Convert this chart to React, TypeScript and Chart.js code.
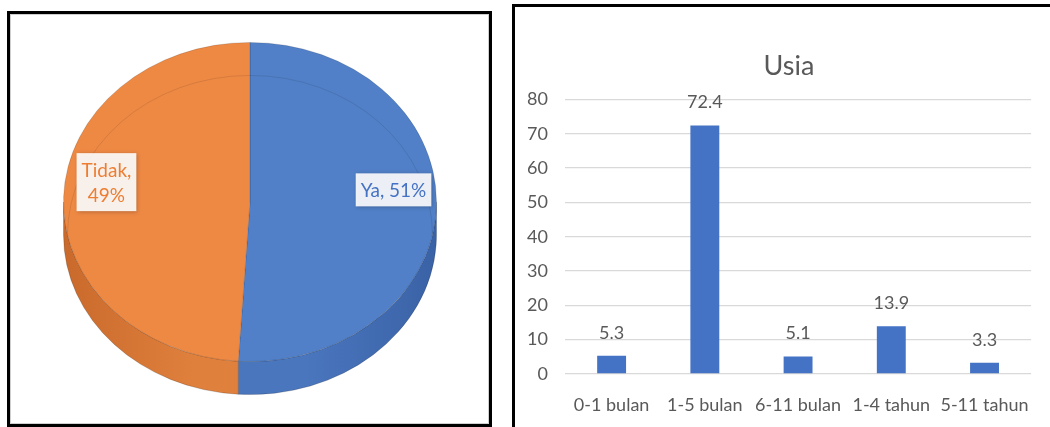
import React, { useEffect, useRef } from "react";
import { Chart, registerables } from "chart.js";

Chart.register(...registerables);

// ---------- Pie data ----------
const pieLabels = ["Ya", "Tidak"];
const pieValues = [51, 49];
const pieTopColors = ["#5180C8", "#EE8944"];
const pieSideDark = ["#3A62A6", "#C96A2C"];
const pieSideLight = ["#4A76BE", "#E0803D"];
const pieTextColors = ["#4472C4", "#ED7D31"];
const pieLabelWrap = [false, true];

// ---------- Bar data ----------
const barTitle = "Usia";
const barCategories = ["0-1 bulan", "1-5 bulan", "6-11 bulan", "1-4 tahun", "5-11 tahun"];
const barValues = [5.3, 72.4, 5.1, 13.9, 3.3];
const yMin = 0;
const yMax = 80;
const yStep = 10;

const FONT = "Lato, 'Open Sans', sans-serif";
const GRAY = "#595959";

const TILT = 160 / 187;
const DEPTH = 33;

const pie3dPlugin = {
  id: "pie3d",
  beforeDatasetsDraw(chart: any) {
    const ctx: CanvasRenderingContext2D = chart.ctx;
    const arcs = chart.getDatasetMeta(0).data as any[];
    if (!arcs.length) return;
    const cx = arcs[0].x;
    const cy = arcs[0].y;
    const R = arcs[0].outerRadius;
    const ry = R * TILT;
    ctx.save();
    arcs.forEach((arc: any, i: number) => {
      for (const base of [0, 2 * Math.PI, -2 * Math.PI]) {
        const a0 = Math.max(arc.startAngle, base);
        const a1 = Math.min(arc.endAngle, base + Math.PI);
        if (a1 <= a0) continue;
        const g = ctx.createLinearGradient(cx - R, 0, cx + R, 0);
        g.addColorStop(0, pieSideDark[i]);
        g.addColorStop(0.35, pieSideLight[i]);
        g.addColorStop(0.65, pieSideLight[i]);
        g.addColorStop(1, pieSideDark[i]);
        ctx.beginPath();
        ctx.ellipse(cx, cy, R, ry, 0, a0, a1);
        ctx.ellipse(cx, cy + DEPTH, R, ry, 0, a1, a0, true);
        ctx.closePath();
        ctx.fillStyle = g;
        ctx.fill();
        ctx.strokeStyle = "rgba(0,0,0,0.18)";
        ctx.lineWidth = 1;
        ctx.stroke();
      }
    });
    ctx.restore();
    ctx.save();
    ctx.translate(cx, cy);
    ctx.scale(1, TILT);
    ctx.translate(-cx, -cy);
  },
  afterDatasetsDraw(chart: any) {
    const ctx: CanvasRenderingContext2D = chart.ctx;
    ctx.restore();
    const arcs = chart.getDatasetMeta(0).data as any[];
    if (!arcs.length) return;
    const cx = arcs[0].x;
    const cy = arcs[0].y;
    const R = arcs[0].outerRadius;
    const ry = R * TILT;
    // faint hidden back edge
    ctx.save();
    ctx.beginPath();
    ctx.ellipse(cx, cy + DEPTH, R - 4, ry, 0, Math.PI, 2 * Math.PI);
    ctx.strokeStyle = "rgba(0,0,0,0.10)";
    ctx.lineWidth = 1;
    ctx.stroke();
    ctx.restore();

    const total = pieValues.reduce((a, b) => a + b, 0);
    arcs.forEach((arc: any, i: number) => {
      const mid = (arc.startAngle + arc.endAngle) / 2;
      const px = cx + R * 0.77 * Math.cos(mid);
      const py = cy + ry * 0.77 * Math.sin(mid) - 16;
      const pct = Math.round((pieValues[i] / total) * 100);
      const lines = pieLabelWrap[i]
        ? [pieLabels[i] + ",", pct + "%"]
        : [pieLabels[i] + ", " + pct + "%"];
      ctx.save();
      ctx.font = `19px ${FONT}`;
      const tw = Math.max(...lines.map((l) => ctx.measureText(l).width));
      const lh = 25;
      const bw = tw + 10;
      const bh = lines.length * lh + 8;
      const bx = px - bw / 2;
      const by = py - bh / 2;
      ctx.shadowColor = "rgba(0,0,0,0.28)";
      ctx.shadowBlur = 4;
      ctx.shadowOffsetX = 1;
      ctx.shadowOffsetY = 1;
      ctx.fillStyle = "rgba(255,255,255,0.9)";
      ctx.fillRect(bx, by, bw, bh);
      ctx.shadowColor = "transparent";
      ctx.fillStyle = pieTextColors[i];
      ctx.textAlign = "center";
      ctx.textBaseline = "middle";
      lines.forEach((l, j) => {
        ctx.fillText(l, px, by + 4 + lh / 2 + j * lh + 1);
      });
      ctx.restore();
    });
  },
};

const barLabelPlugin = {
  id: "barLabels",
  afterLayout(chart: any) {
    // Excel centres the title over the whole chart object, a bit right of the plot centre
    if (chart.titleBlock) chart.titleBlock.left += 27;
  },
  afterDatasetsDraw(chart: any) {
    const ctx: CanvasRenderingContext2D = chart.ctx;
    const meta = chart.getDatasetMeta(0);
    ctx.save();
    ctx.font = `18px ${FONT}`;
    ctx.fillStyle = GRAY;
    ctx.textAlign = "center";
    ctx.textBaseline = "alphabetic";
    meta.data.forEach((bar: any, i: number) => {
      ctx.fillText(String(barValues[i]), bar.x, bar.y - 17);
    });
    ctx.restore();
  },
};

function PieChart() {
  const ref = useRef<HTMLCanvasElement>(null);
  useEffect(() => {
    if (!ref.current) return;
    const chart = new Chart(ref.current, {
      type: "pie",
      data: {
        labels: pieLabels,
        datasets: [
          {
            data: pieValues,
            backgroundColor: pieTopColors,
            borderColor: "rgba(0,0,0,0.15)",
            borderWidth: 1,
            clip: false as any,
          } as any,
        ],
      },
      options: {
        responsive: false,
        animation: false,
        events: [],
        layout: { padding: { left: 53, right: 52, top: 1, bottom: 35 } },
        plugins: {
          legend: { display: false },
          tooltip: { enabled: false },
        },
      },
      plugins: [pie3dPlugin],
    });
    return () => chart.destroy();
  }, []);
  return <canvas ref={ref} width={479} height={410} style={{ display: "block" }} />;
}

function BarChart() {
  const ref = useRef<HTMLCanvasElement>(null);
  useEffect(() => {
    if (!ref.current) return;
    const chart = new Chart(ref.current, {
      type: "bar",
      data: {
        labels: barCategories,
        datasets: [
          {
            data: barValues,
            backgroundColor: "#4472C4",
            categoryPercentage: 1,
            barPercentage: 0.31,
          },
        ],
      },
      options: {
        responsive: false,
        animation: false,
        events: [],
        layout: { padding: { left: 0, right: 14, top: 0, bottom: 0 } },
        plugins: {
          legend: { display: false },
          tooltip: { enabled: false },
          title: {
            display: true,
            text: barTitle,
            color: GRAY,
            font: { family: FONT, size: 27, weight: "normal" as any, lineHeight: 1.2 },
            padding: { top: 43, bottom: 17 },
          },
        },
        scales: {
          x: {
            grid: { display: false, drawTicks: false },
            border: { display: false },
            ticks: {
              color: GRAY,
              font: { family: FONT, size: 18 },
              padding: 20,
              maxRotation: 0,
              autoSkip: false,
            },
            afterFit: (s: any) => {
              s.height = 53;
            },
          },
          y: {
            min: yMin,
            max: yMax,
            ticks: {
              stepSize: yStep,
              color: GRAY,
              font: { family: FONT, size: 18 },
              padding: 17,
            },
            grid: { color: "#D9D9D9", lineWidth: 1.3, drawTicks: false },
            border: { display: false },
            afterFit: (s: any) => {
              s.width = 50;
            },
          },
        },
      },
      plugins: [barLabelPlugin],
    });
    return () => chart.destroy();
  }, []);
  return <canvas ref={ref} width={535} height={420} style={{ display: "block" }} />;
}

export default function App() {
  return (
    <div
      style={{
        position: "absolute",
        left: 0,
        top: 0,
        width: 1050,
        height: 427,
        overflow: "hidden",
        background: "#fff",
      }}
    >
      <div
        style={{
          position: "absolute",
          left: 7,
          top: 11,
          width: 485,
          height: 416,
          boxSizing: "border-box",
          border: "3px solid #000",
          boxShadow: "inset 0 0 0 1px #cfcfcf",
          background: "#fff",
        }}
      >
        <PieChart />
      </div>
      <div
        style={{
          position: "absolute",
          left: 512,
          top: 4,
          width: 560,
          height: 440,
          boxSizing: "border-box",
          borderLeft: "3px solid #000",
          borderTop: "3px solid #000",
          background: "#fff",
        }}
      >
        <BarChart />
      </div>
    </div>
  );
}
